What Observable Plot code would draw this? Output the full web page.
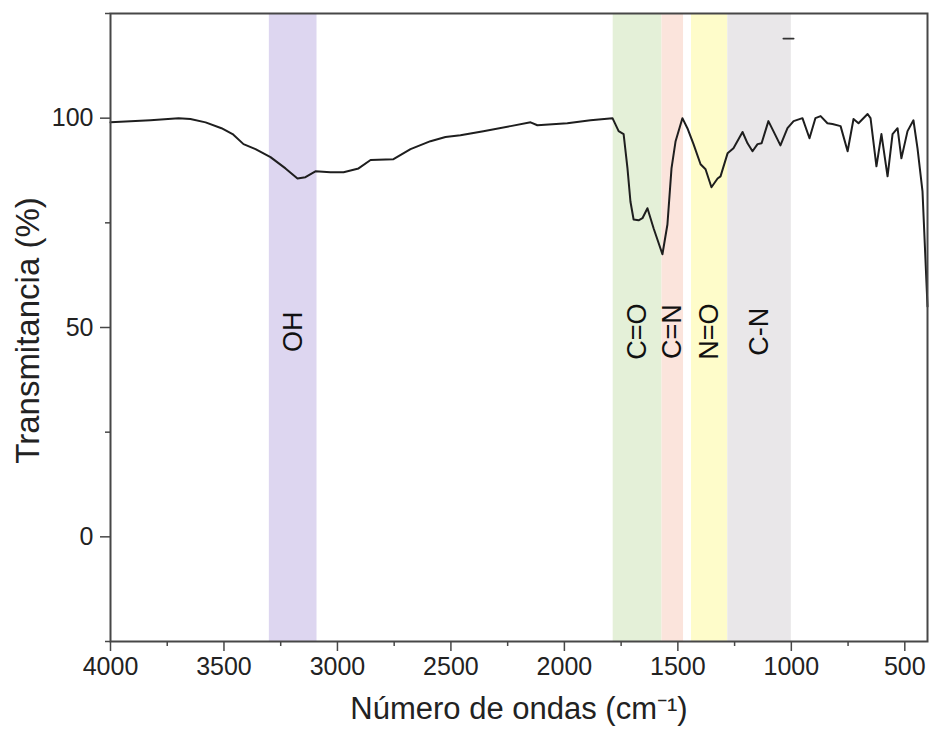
<!DOCTYPE html>
<html>
<head>
<meta charset="utf-8">
<script src="https://cdn.jsdelivr.net/npm/d3@7"></script>
<script src="https://cdn.jsdelivr.net/npm/@observablehq/plot@0.6"></script>
<style>
  html, body { margin: 0; padding: 0; background: #fff; }
  #chart svg { display: block; }
</style>
</head>
<body>
<div id="chart"></div>
<script>
// Espectro FTIR: número de onda (cm⁻¹) y transmitancia (%)
const numeroOnda = [
  4000, 3824, 3700, 3648, 3581, 3511, 3462, 3414, 3361, 3295, 3229, 3176, 3141, 3097,
  3031, 2973, 2907, 2854, 2753, 2678, 2590, 2524, 2458, 2357, 2237, 2149, 2119, 1987,
  1885, 1788, 1761, 1739, 1722, 1709, 1695, 1673, 1656, 1634, 1607, 1568, 1546, 1528,
  1510, 1480, 1458, 1431, 1400, 1378, 1352, 1325, 1312, 1281, 1255, 1215, 1193, 1171,
  1149, 1131, 1101, 1079, 1048, 1017, 990, 951, 920, 894, 871, 841, 819, 783, 752,
  726, 704, 664, 651, 625, 603, 576, 554, 532, 515, 488, 462, 444, 422, 400
];
const transmitancia = [
  99.0, 99.5, 100.0, 99.8, 99.0, 97.6, 96.2, 93.8, 92.6, 90.7, 88.0, 85.6, 85.9, 87.3,
  87.1, 87.1, 88.0, 90.0, 90.2, 92.6, 94.5, 95.5, 95.9, 96.9, 98.1, 99.0, 98.3, 98.8,
  99.5, 100.0, 96.9, 96.2, 88.0, 80.1, 75.8, 75.6, 76.1, 78.5, 73.7, 67.5, 74.6, 88.0,
  94.5, 100.0, 97.6, 93.8, 89.0, 87.8, 83.5, 85.6, 86.1, 91.6, 92.8, 96.7, 94.0, 92.1,
  93.8, 94.0, 99.3, 96.9, 93.5, 97.6, 99.3, 100.0, 95.2, 100.0, 100.5, 98.8, 98.6, 98.1, 92.1,
  99.8, 98.8, 101.0, 100.0, 88.5, 96.2, 86.1, 96.2, 97.6, 90.4, 96.9, 99.5, 92.8, 82.5, 55.0
];

// Bandas de grupos funcionales
const bandas = ["OH", "C=O", "C=N", "N=O", "C-N"];
const bandaInicio = [3300, 1785, 1570, 1440, 1280];
const bandaFin = [3090, 1570, 1475, 1280, 1000];
const bandaColor = ["#ddd6f0", "#e4f0d8", "#fbe4dc", "#fefcca", "#e9e7e9"];

// Marcas de los ejes
const ticksX = [4000, 3500, 3000, 2500, 2000, 1500, 1000, 500];
const ticksXMenores = [3750, 3250, 2750, 2250, 1750, 1250, 750];
const ticksY = [0, 50, 100];
const ticksYMenores = [-25, 25, 75, 125];

// Pequeño trazo horizontal sobre la banda C-N
const trazoX = [1035, 990];
const trazoY = [119, 119];

const espectro = numeroOnda.map((x, i) => ({x, y: transmitancia[i]}));
const zonas = bandas.map((nombre, i) => ({
  nombre, x1: bandaInicio[i], x2: bandaFin[i], color: bandaColor[i],
  centro: (bandaInicio[i] + bandaFin[i]) / 2
}));
const trazo = trazoX.map((x, i) => ({x, y: trazoY[i]}));

const colorEje = "#474747";

const chart = Plot.plot({
  width: 930,
  height: 742,
  marginLeft: 110,
  marginRight: 3,
  marginTop: 13,
  marginBottom: 101,
  style: {
    fontFamily: "'Liberation Sans', Arial, Helvetica, sans-serif",
    background: "#fff",
    color: "#222"
  },
  x: {domain: [4000, 400]},
  y: {domain: [-25, 125]},
  marks: [
    Plot.rect(zonas, {x1: "x1", x2: "x2", fill: "color"}),
    Plot.line(espectro, {x: "x", y: "y", stroke: "#1e1e1e", strokeWidth: 2, strokeLinejoin: "round"}),
    Plot.line(trazo, {x: "x", y: "y", stroke: "#333", strokeWidth: 1.8}),
    Plot.text(zonas, {
      x: "centro", y: 49, text: "nombre", rotate: -90,
      fontSize: 27, fill: "#111", textAnchor: "middle"
    }),
    Plot.axisX({ticks: ticksX, tickSize: 10, tickPadding: 6, fontSize: 25, label: null, stroke: colorEje, strokeWidth: 1.5, tickFormat: d => String(d)}),
    Plot.axisX({ticks: ticksXMenores, tickSize: 5, text: null, label: null, stroke: colorEje, strokeWidth: 1.5}),
    Plot.axisY({ticks: ticksY, tickSize: 10, tickPadding: 7, fontSize: 25, label: null, stroke: colorEje, strokeWidth: 1.5}),
    Plot.axisY({ticks: ticksYMenores, tickSize: 5, text: null, label: null, stroke: colorEje, strokeWidth: 1.5}),
    Plot.frame({stroke: colorEje, strokeWidth: 2}),
    Plot.text(["Número de ondas (cm⁻¹)"], {frameAnchor: "bottom", dy: 77, fontSize: 31, fill: "#222", textAnchor: "middle"}),
    Plot.text(["Transmitancia (%)"], {frameAnchor: "left", dx: -82, dy: 3, rotate: -90, fontSize: 33, fill: "#222", textAnchor: "middle"})
  ]
});

document.getElementById("chart").append(chart);
</script>
</body>
</html>
